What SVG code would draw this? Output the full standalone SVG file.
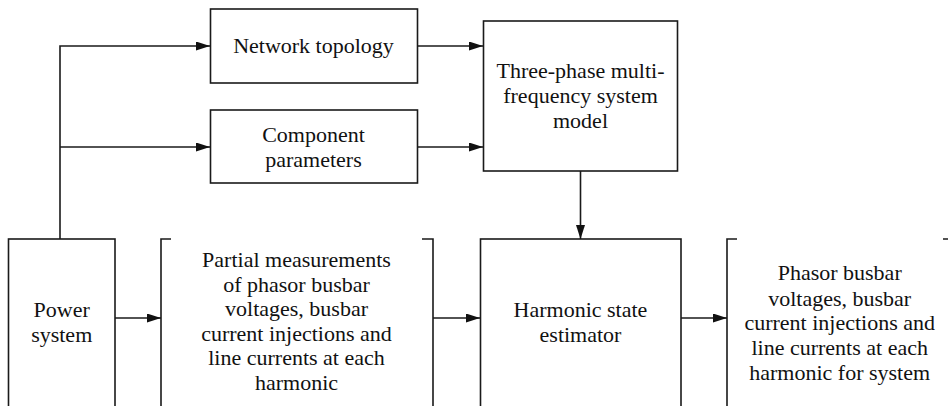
<svg xmlns="http://www.w3.org/2000/svg" width="948" height="406" viewBox="0 0 948 406">
  <defs>
    <marker id="arrow" markerUnits="userSpaceOnUse" markerWidth="15" markerHeight="10" refX="14" refY="4.5" orient="auto">
      <path d="M0,0 L14,4.5 L0,9 Z" fill="#111"/>
    </marker>
  </defs>
  <rect width="948" height="406" fill="#fff"/>

  <!-- node outlines and labels share one set of inherited presentation attributes -->
  <g fill="none" stroke="#1a1a1a" stroke-width="1.6">
    <g id="power-system">
      <rect x="8.5" y="239" width="106.5" height="200"/>
    </g>
    <g id="network-topology">
      <rect x="210.5" y="9" width="207" height="74"/>
    </g>
    <g id="component-parameters">
      <rect x="210.5" y="110" width="207" height="73"/>
    </g>
    <g id="system-model">
      <rect x="483.5" y="21" width="194" height="150"/>
    </g>
    <g id="partial-measurements">
      <path d="M171,239 H161 V420"/>
      <path d="M422,239 H433 V420"/>
    </g>
    <g id="state-estimator">
      <rect x="480.5" y="239" width="200.5" height="200"/>
    </g>
    <g id="system-output">
      <path d="M737,239 H727 V420"/>
      <path d="M943,239 H952 V420"/>
    </g>
  </g>

  <g id="labels" font-size="24" fill="#111">
    <text font-family="'Liberation Serif'" font-size="22" text-anchor="middle" x="61.7" y="317.3">Power</text>
    <text font-family="'Liberation Serif'" font-size="22" text-anchor="middle" x="61.7" y="341.7">system</text>
    <text font-family="'Liberation Serif'" font-size="22" text-anchor="middle" x="313.5" y="53.3">Network topology</text>
    <text font-family="'Liberation Serif'" font-size="22" text-anchor="middle" x="313.5" y="141.7">Component</text>
    <text font-family="'Liberation Serif'" font-size="22" text-anchor="middle" x="313.5" y="166.7">parameters</text>
    <text font-family="'Liberation Serif'" font-size="22" text-anchor="middle" x="580.5" y="78.3">Three-phase multi-</text>
    <text font-family="'Liberation Serif'" font-size="22" text-anchor="middle" x="580.5" y="103.3">frequency system</text>
    <text font-family="'Liberation Serif'" font-size="22" text-anchor="middle" x="580.5" y="128.3">model</text>
    <text font-family="'Liberation Serif'" font-size="22" text-anchor="middle" x="296.5" y="267">Partial measurements</text>
    <text font-family="'Liberation Serif'" font-size="22" text-anchor="middle" x="296.5" y="291.5">of phasor busbar</text>
    <text font-family="'Liberation Serif'" font-size="22" text-anchor="middle" x="296.5" y="316">voltages, busbar</text>
    <text font-family="'Liberation Serif'" font-size="22" text-anchor="middle" x="296.5" y="340.5">current injections and</text>
    <text font-family="'Liberation Serif'" font-size="22" text-anchor="middle" x="296.5" y="365">line currents at each</text>
    <text font-family="'Liberation Serif'" font-size="22" text-anchor="middle" x="296.5" y="389.5">harmonic</text>
    <text font-family="'Liberation Serif'" font-size="22" text-anchor="middle" x="580.5" y="317.3">Harmonic state</text>
    <text font-family="'Liberation Serif'" font-size="22" text-anchor="middle" x="580.5" y="341.7">estimator</text>
    <text font-family="'Liberation Serif'" font-size="22" text-anchor="middle" x="839.7" y="280">Phasor busbar</text>
    <text font-family="'Liberation Serif'" font-size="22" text-anchor="middle" x="839.7" y="305.5">voltages, busbar</text>
    <text font-family="'Liberation Serif'" font-size="22" text-anchor="middle" x="839.7" y="330">current injections and</text>
    <text font-family="'Liberation Serif'" font-size="22" text-anchor="middle" x="839.7" y="355">line currents at each</text>
    <text font-family="'Liberation Serif'" font-size="22" text-anchor="middle" x="839.7" y="380">harmonic for system</text>
  </g>

  <g id="connectors" fill="none" stroke="#1a1a1a" stroke-width="1.6" marker-end="url(#arrow)">
    <path d="M60,239 V46 H210"/>
    <path d="M60,147 H210"/>
    <path d="M417.5,46 H483"/>
    <path d="M417.5,147 H483"/>
    <path d="M580.5,171 V239"/>
    <path d="M115,318 H161"/>
    <path d="M433,318 H480"/>
    <path d="M681,318 H727"/>
  </g>
</svg>
